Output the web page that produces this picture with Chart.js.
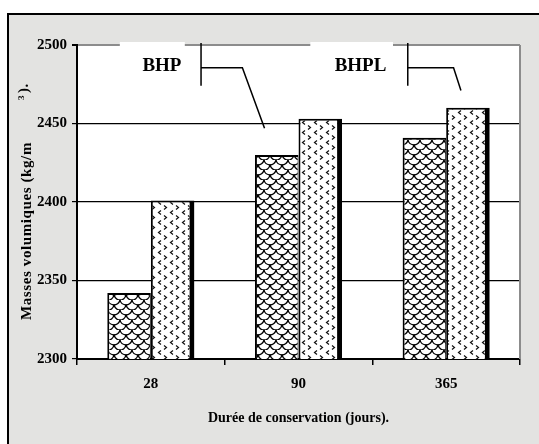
<!DOCTYPE html>
<html>
<head>
<meta charset="utf-8">
<script src="https://cdn.jsdelivr.net/npm/chart.js@4.4.1/dist/chart.umd.min.js"></script>
<style>
  html, body { margin: 0; padding: 0; background: #fff; }
  #wrap { width: 539px; height: 444px; }
</style>
</head>
<body>
<div id="wrap"><canvas id="chart1" width="539" height="444"></canvas></div>
<script>
// data
const durations = ["28", "90", "365"];
const bhpValues = [2342, 2430, 2441];
const bhplValues = [2401, 2453, 2460];
const yTicks = [2300, 2350, 2400, 2450, 2500];

const serif = "'Liberation Serif', 'Times New Roman', serif";

// callouts, in data units (category index, value)
const callouts = [
  { text: "BHP", tx: 0.075, ty: 2486.5, box: [-0.21, 0.23], bar: 0.34, elbow: 0.62, tip: [0.77, 2447] },
  { text: "BHPL", tx: 1.42, ty: 2486.5, box: [1.08, 1.64], bar: 1.74, elbow: 2.05, tip: [2.1, 2471] }
];

function makeScalePattern(ctx) {
  const c = document.createElement("canvas");
  c.width = 12; c.height = 10;
  const g = c.getContext("2d");
  g.fillStyle = "#fff";
  g.fillRect(0, 0, 12, 10);
  g.strokeStyle = "#000";
  g.lineWidth = 1.3;
  g.beginPath(); g.arc(6, -1, 6, 0.15, Math.PI - 0.15); g.stroke();
  g.beginPath(); g.arc(0, 4, 6, 0.1, Math.PI / 2 + 0.3); g.stroke();
  g.beginPath(); g.arc(12, 4, 6, Math.PI / 2 - 0.3, Math.PI - 0.1); g.stroke();
  return ctx.createPattern(c, "repeat");
}

function makeChevronPattern(ctx) {
  const c = document.createElement("canvas");
  c.width = 12; c.height = 10;
  const g = c.getContext("2d");
  g.fillStyle = "#fff";
  g.fillRect(0, 0, 12, 10);
  g.strokeStyle = "#111";
  g.lineWidth = 1.2;
  g.beginPath(); g.moveTo(5, 0.5); g.lineTo(2.5, 2.5); g.lineTo(5, 4.5); g.stroke();
  g.beginPath(); g.moveTo(8, 5.5); g.lineTo(10.5, 7.5); g.lineTo(8, 9.5); g.stroke();
  return ctx.createPattern(c, "repeat");
}

const framePlugin = {
  id: "frame",
  beforeDraw(chart) {
    const { ctx, chartArea: a } = chart;
    ctx.save();
    ctx.fillStyle = "#fff";
    ctx.fillRect(0, 0, chart.width, chart.height);
    ctx.fillStyle = "#e3e3e1";
    ctx.fillRect(8, 14, chart.width, chart.height);
    ctx.strokeStyle = "#000";
    ctx.lineWidth = 2;
    ctx.beginPath();
    ctx.moveTo(8, chart.height); ctx.lineTo(8, 14); ctx.lineTo(chart.width, 14);
    ctx.stroke();
    ctx.fillStyle = "#fff";
    ctx.fillRect(a.left, a.top, a.right - a.left, a.bottom - a.top);
    ctx.restore();
  },
  beforeDatasetsDraw(chart) {
    const { ctx, chartArea: a } = chart;
    ctx.save();
    ctx.strokeStyle = "#8c8c8c";
    ctx.lineWidth = 2;
    ctx.beginPath();
    ctx.moveTo(a.right, a.top); ctx.lineTo(a.right, a.bottom);
    ctx.stroke();
    ctx.restore();
  },
  afterDraw(chart) {
    const { ctx, chartArea: a } = chart;
    const xs = chart.scales.x, ys = chart.scales.y;
    ctx.save();
    callouts.forEach(c => {
      const b0 = xs.getPixelForValue(c.box[0]), b1 = xs.getPixelForValue(c.box[1]);
      ctx.fillStyle = "#fff";
      ctx.fillRect(b0, a.top - 3, b1 - b0, 8);
      ctx.fillStyle = "#000";
      ctx.font = "bold 19px " + serif;
      ctx.textAlign = "center";
      ctx.textBaseline = "middle";
      ctx.fillText(c.text, xs.getPixelForValue(c.tx), ys.getPixelForValue(c.ty));
      const bx = xs.getPixelForValue(c.bar);
      const ey = ys.getPixelForValue(2485.5);
      ctx.strokeStyle = "#000";
      ctx.lineWidth = 1.5;
      ctx.beginPath();
      ctx.moveTo(bx, a.top - 2); ctx.lineTo(bx, ys.getPixelForValue(2474));
      ctx.moveTo(bx, ey); ctx.lineTo(xs.getPixelForValue(c.elbow), ey);
      ctx.lineTo(xs.getPixelForValue(c.tip[0]), ys.getPixelForValue(c.tip[1]));
      ctx.stroke();
    });

    // y axis title with superscript
    ctx.translate(31, 320);
    ctx.rotate(-Math.PI / 2);
    ctx.fillStyle = "#000";
    ctx.textAlign = "left";
    ctx.textBaseline = "alphabetic";
    ctx.font = "bold 15px " + serif;
    ctx.letterSpacing = "0.6px";
    ctx.fillText("Masses volumiques (kg/m", 0, 0);
    ctx.font = "bold 9px " + serif;
    ctx.fillText("3", 220, -7);
    ctx.font = "bold 15px " + serif;
    ctx.fillText(").", 227, -3);
    ctx.restore();
  }
};

const ctx = document.getElementById("chart1").getContext("2d");
const scalePattern = makeScalePattern(ctx);
const chevronPattern = makeChevronPattern(ctx);

new Chart(ctx, {
  type: "bar",
  data: {
    labels: durations,
    datasets: [
      {
        label: "BHP",
        data: bhpValues,
        backgroundColor: scalePattern,
        borderColor: "#000",
        borderWidth: { left: 2, top: 2, right: 1, bottom: 0 }
      },
      {
        label: "BHPL",
        data: bhplValues,
        backgroundColor: chevronPattern,
        borderColor: "#000",
        borderWidth: { left: 2, top: 2, right: 5, bottom: 0 }
      }
    ]
  },
  options: {
    responsive: false,
    animation: false,
    layout: { padding: { left: 0, right: 19, top: 45, bottom: 0 } },
    datasets: {
      bar: { categoryPercentage: 0.59, barPercentage: 1.0 }
    },
    scales: {
      x: {
        afterFit(scale) { scale.height = 85; },
        grid: { offset: true, drawOnChartArea: false, tickLength: 6, color: "#000", lineWidth: 1.5 },
        border: { color: "#000", width: 2 },
        ticks: { color: "#000", padding: 10, font: { family: serif, size: 15, weight: "bold" } },
        title: {
          display: true,
          text: "Durée de conservation (jours).",
          color: "#000",
          padding: { top: 0, bottom: 17 },
          font: { family: serif, size: 14, weight: "bold" }
        }
      },
      y: {
        min: yTicks[0],
        max: yTicks[yTicks.length - 1],
        afterFit(scale) { scale.width = 77; },
        afterBuildTicks(scale) { scale.ticks = yTicks.map(v => ({ value: v })); },
        grid: {
          tickLength: 5,
          color: c => (c.tick && c.tick.value === 2500 ? "#8c8c8c" : "#000"),
          lineWidth: c => (c.tick && c.tick.value === 2500 ? 2 : 1.2),
          tickColor: "#000"
        },
        border: { color: "#000", width: 2 },
        ticks: {
          color: "#000",
          padding: 5,
          font: { family: serif, size: 15, weight: "bold" },
          callback: v => String(v)
        }
      }
    },
    plugins: {
      legend: { display: false },
      tooltip: { enabled: false }
    }
  },
  plugins: [framePlugin]
});
</script>
</body>
</html>
